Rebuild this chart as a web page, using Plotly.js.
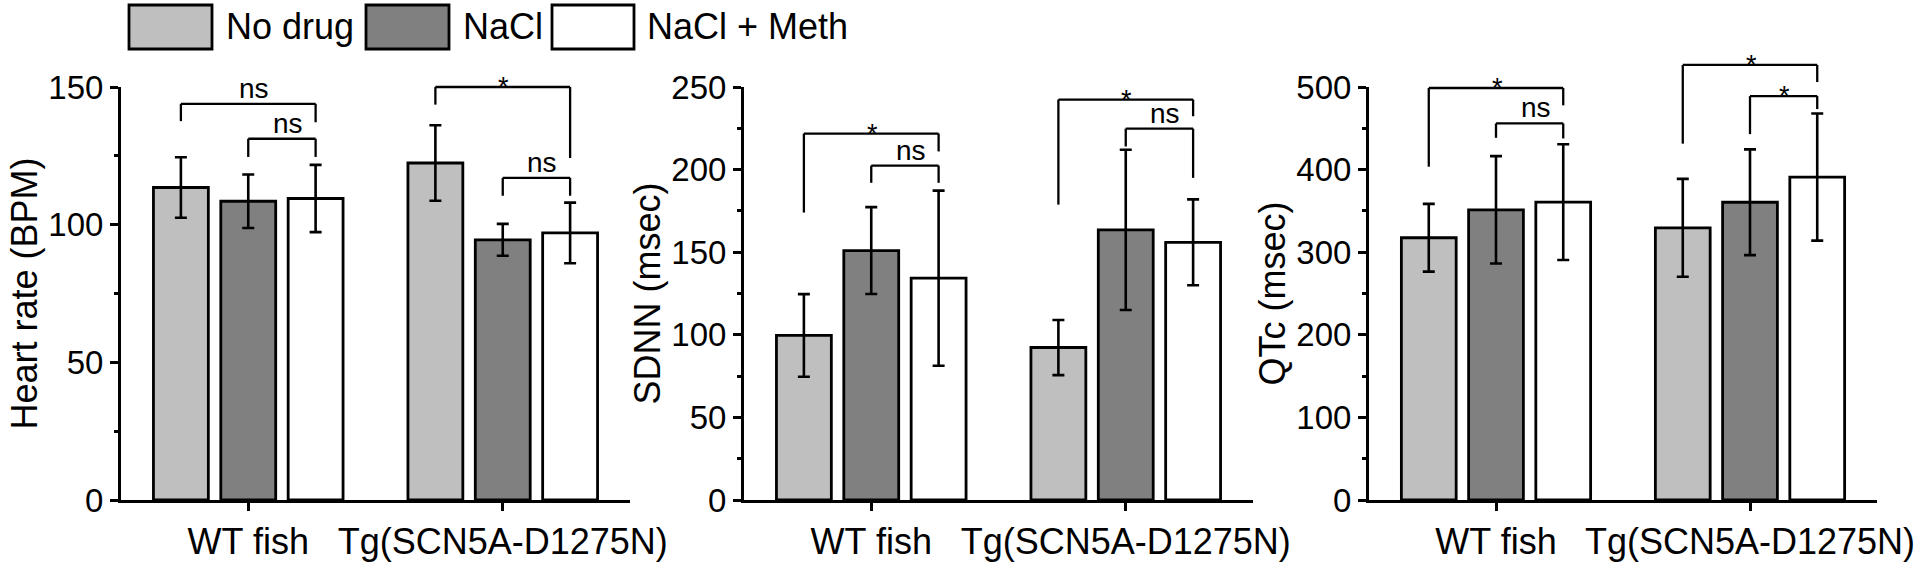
<!DOCTYPE html>
<html>
<head>
<meta charset="utf-8">
<script src="https://cdn.plot.ly/plotly-3.0.1.min.js"></script>
<style>html,body{margin:0;padding:0;background:#fff}#chart{width:1920px;height:568px}</style>
</head>
<body>
<div id="chart"></div>
<script>
// ---------------- data ----------------
const categories = ['WT fish', 'Tg(SCN5A-D1275N)'];
const seriesNames = ['No drug', 'NaCl', 'NaCl + Meth'];
const seriesColors = ['#bfbfbf', '#808080', '#ffffff'];

// Heart rate (BPM)
const hrNoDrug = [113.5, 122.4];
const hrNaCl = [108.5, 94.5];
const hrMeth = [109.5, 97.0];
const hrNoDrugErr = [11.0, 13.7];
const hrNaClErr = [9.7, 5.8];
const hrMethErr = [12.2, 11.0];

// SDNN (msec)
const sdnnNoDrug = [99.6, 92.3];
const sdnnNaCl = [151.0, 163.5];
const sdnnMeth = [134.3, 156.0];
const sdnnNoDrugErr = [25.0, 16.7];
const sdnnNaClErr = [26.3, 48.5];
const sdnnMethErr = [53.0, 26.0];

// QTc (msec)
const qtcNoDrug = [317.5, 329.5];
const qtcNaCl = [351.3, 360.5];
const qtcMeth = [360.6, 391.0];
const qtcNoDrugErr = [41.0, 59.3];
const qtcNaClErr = [65.0, 64.0];
const qtcMethErr = [70.0, 77.0];

// y axes
const yTitles = ['Heart rate (BPM)', 'SDNN (msec)', 'QTc (msec)'];
const yMax = [150, 250, 500];
const yStep = [50, 50, 100];

// significance brackets (same structure in each panel)
const bracketGroup = [0, 0, 1, 1];
const bracketFrom = [0, 1, 0, 1];
const bracketTo = [2, 2, 2, 2];
const hrBracketTop = [143.9, 131.2, 150.0, 117.0];
const hrBracketLeft = [137.6, 124.6, 143.6, 110.5];
const hrBracketRight = [137.2, 124.6, 124.2, 110.5];
const hrBracketLabel = ['ns', 'ns', '*', 'ns'];
const sdnnBracketTop = [221.8, 202.4, 242.4, 224.8];
const sdnnBracketLeft = [174.0, 192.0, 178.8, 214.0];
const sdnnBracketRight = [211.0, 192.0, 232.3, 195.0];
const sdnnBracketLabel = ['*', 'ns', '*', 'ns'];
const qtcBracketTop = [498.8, 455.9, 526.7, 489.0];
const qtcBracketLeft = [403.5, 438.5, 431.4, 442.9];
const qtcBracketRight = [477.8, 437.7, 506.0, 473.3];
const qtcBracketLabel = ['*', 'ns', '*', '*'];

// ---------------- build ----------------
const W = 1920, H = 568;
const FONT = 'Liberation Sans, Arial, Helvetica, sans-serif';
const BARGAP = 0.206, BARGROUPGAP = 0.185;
const xDomPx = [[121, 630], [744, 1253], [1369, 1877]];
const yDomPx = [87, 500];
const yDom = [(H - yDomPx[1]) / H, (H - yDomPx[0]) / H];

const panels = [
  {means: [hrNoDrug, hrNaCl, hrMeth], errs: [hrNoDrugErr, hrNaClErr, hrMethErr],
   top: hrBracketTop, left: hrBracketLeft, right: hrBracketRight, label: hrBracketLabel},
  {means: [sdnnNoDrug, sdnnNaCl, sdnnMeth], errs: [sdnnNoDrugErr, sdnnNaClErr, sdnnMethErr],
   top: sdnnBracketTop, left: sdnnBracketLeft, right: sdnnBracketRight, label: sdnnBracketLabel},
  {means: [qtcNoDrug, qtcNaCl, qtcMeth], errs: [qtcNoDrugErr, qtcNaClErr, qtcMethErr],
   top: qtcBracketTop, left: qtcBracketLeft, right: qtcBracketRight, label: qtcBracketLabel}
];

const traces = [];
const layout = {
  width: W, height: H,
  margin: {l: 0, r: 0, t: 0, b: 0},
  paper_bgcolor: '#fff', plot_bgcolor: '#fff',
  barmode: 'group', bargap: BARGAP, bargroupgap: BARGROUPGAP,
  showlegend: false,
  font: {family: FONT, color: '#000'},
  shapes: [], annotations: []
};

const slot = (1 - BARGAP) / 3;
function paperY(v, p) { return yDom[0] + (v / yMax[p]) * (yDom[1] - yDom[0]); }

panels.forEach((pn, p) => {
  const sfx = p === 0 ? '' : String(p + 1);
  seriesNames.forEach((name, s) => {
    traces.push({
      type: 'bar', name: name, x: categories, y: pn.means[s],
      xaxis: 'x' + sfx, yaxis: 'y' + sfx,
      marker: {color: seriesColors[s], line: {color: '#000', width: 2.8}},
      error_y: {type: 'data', array: pn.errs[s], visible: true, color: '#000', thickness: 2.6, width: 6},
      cliponaxis: false, hoverinfo: 'skip'
    });
  });
  layout['xaxis' + sfx] = {
    domain: [xDomPx[p][0] / W, xDomPx[p][1] / W], anchor: 'y' + sfx,
    type: 'category', range: [-0.5, 1.5], fixedrange: true,
    showline: true, linecolor: '#000', linewidth: 3,
    ticks: 'outside', ticklen: 8, tickwidth: 3, tickcolor: '#000',
    showgrid: false, zeroline: false, automargin: false,
    tickfont: {size: 36, family: FONT, color: '#000'}
  };
  layout['yaxis' + sfx] = {
    domain: yDom, anchor: 'x' + sfx, range: [0, yMax[p]], dtick: yStep[p], tick0: 0,
    showline: true, linecolor: '#000', linewidth: 3,
    ticks: 'outside', ticklen: 8, tickwidth: 3, tickcolor: '#000',
    minor: {ticks: 'outside', ticklen: 4, tickwidth: 3, tickcolor: '#000', dtick: yStep[p] / 2, showgrid: false},
    showgrid: false, zeroline: false, automargin: false,
    tickfont: {size: 33, family: FONT, color: '#000'},
    title: {text: yTitles[p], font: {size: 36, family: FONT, color: '#000'}, standoff: 0}
  };
  // brackets
  bracketGroup.forEach((g, b) => {
    const xL = g + (bracketFrom[b] - 1) * slot;
    const xR = g + (bracketTo[b] - 1) * slot;
    const yT = paperY(pn.top[b], p);
    const line = {color: '#000', width: 2.3};
    const base = {type: 'line', xref: 'x' + sfx, yref: 'paper', line: line, layer: 'above'};
    layout.shapes.push(Object.assign({}, base, {x0: xL, x1: xL, y0: paperY(pn.left[b], p), y1: yT}));
    layout.shapes.push(Object.assign({}, base, {x0: xL, x1: xR, y0: yT, y1: yT}));
    layout.shapes.push(Object.assign({}, base, {x0: xR, x1: xR, y0: paperY(pn.right[b], p), y1: yT}));
    const isStar = pn.label[b] === '*';
    layout.annotations.push({
      xref: 'x' + sfx, yref: 'paper', x: (xL + xR) / 2, y: yT,
      xanchor: 'center', yanchor: 'bottom', showarrow: false,
      text: pn.label[b], xshift: isStar ? 1 : 6, yshift: isStar ? -17 : -2,
      font: {size: isStar ? 27 : 28, family: FONT, color: '#000'}
    });
  });
});

// legend drawn as large boxes at top
const legBoxPx = [[129, 212], [366, 449], [552, 634]];
const legTextPx = [224, 461, 645];
seriesNames.forEach((name, s) => {
  layout.shapes.push({
    type: 'rect', xref: 'paper', yref: 'paper',
    x0: legBoxPx[s][0] / W, x1: legBoxPx[s][1] / W, y0: 1 - 49 / H, y1: 1 - 5 / H,
    fillcolor: seriesColors[s], line: {color: '#000', width: 2.8}
  });
  layout.annotations.push({
    xref: 'paper', yref: 'paper', x: legTextPx[s] / W, y: 1 - 27 / H,
    xanchor: 'left', yanchor: 'middle', showarrow: false, text: name,
    font: {size: 36, family: FONT, color: '#000'}
  });
});

Plotly.newPlot('chart', traces, layout, {staticPlot: true, displayModeBar: false});
</script>
</body>
</html>
